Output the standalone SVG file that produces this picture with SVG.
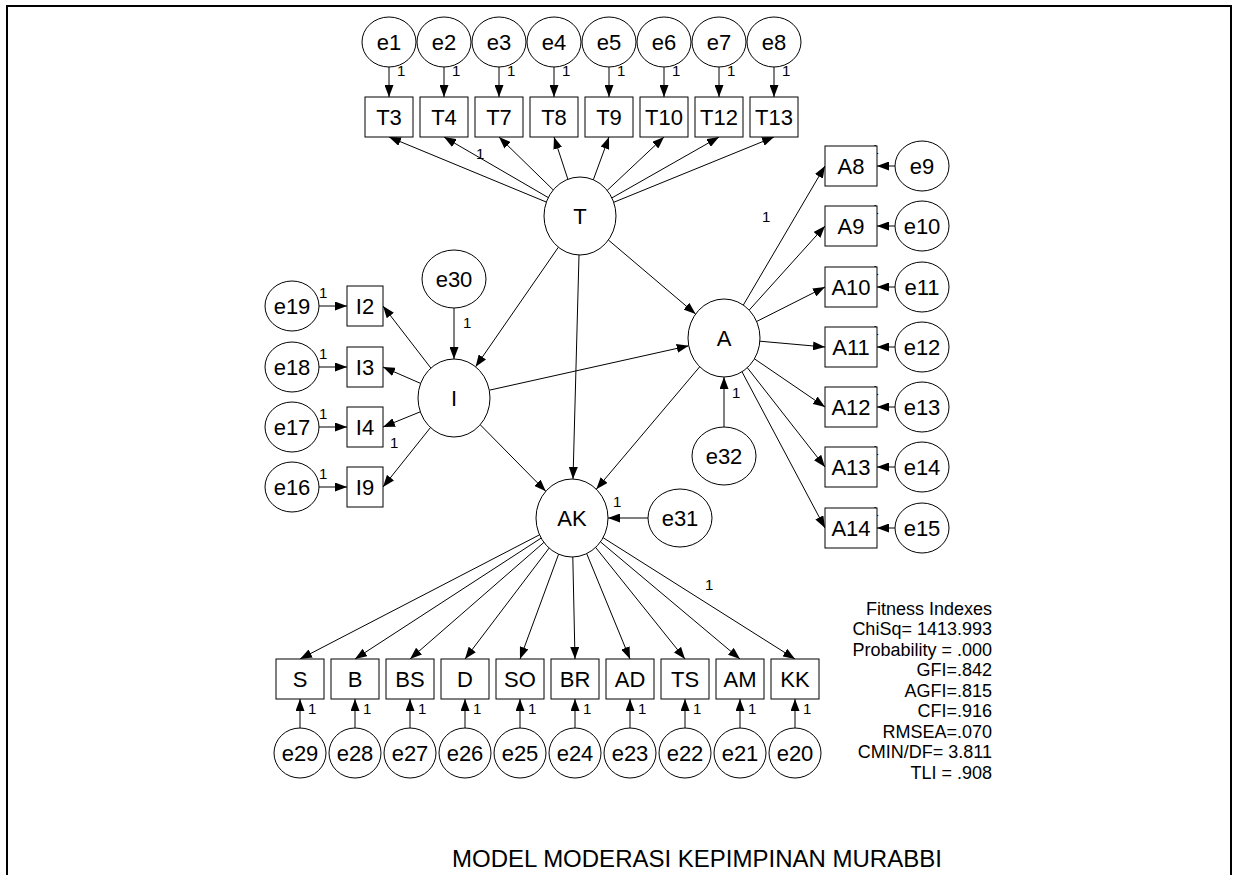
<svg xmlns="http://www.w3.org/2000/svg" width="1237" height="875" viewBox="0 0 1237 875">
<style>
.n{fill:#fff;stroke:#000;stroke-width:1}
.lb{font-family:"Liberation Sans",Arial,sans-serif;font-size:22px;text-anchor:middle;dominant-baseline:central;fill:#000}
.one{font-family:"Liberation Sans",Arial,sans-serif;font-size:15px;fill:#000}
.fit{font-family:"Liberation Sans",Arial,sans-serif;font-size:18px;text-anchor:end;fill:#000}
.c line{stroke:#000;stroke-width:1;marker-end:url(#ah)}
</style>
<defs>
<marker id="ah" viewBox="0 0 12 9" refX="12" refY="4.5" markerWidth="12" markerHeight="9" markerUnits="userSpaceOnUse" orient="auto"><path d="M0,0 L12,4.5 L0,9 Z" fill="#000"/></marker>
</defs>
<rect width="1237" height="875" fill="#fff"/>
<path d="M7,875 V6 H1231 V875" fill="none" stroke="#000" stroke-width="2"/>

<g class="c" id="connectors">
<line x1="389" y1="67" x2="389" y2="97"/><line x1="444" y1="67" x2="444" y2="97"/><line x1="499" y1="67" x2="499" y2="97"/><line x1="554" y1="67" x2="554" y2="97"/><line x1="609" y1="67" x2="609" y2="97"/><line x1="664" y1="67" x2="664" y2="97"/><line x1="719" y1="67" x2="719" y2="97"/><line x1="774" y1="67" x2="774" y2="97"/>
<line x1="546.4" y1="202.1" x2="389" y2="137"/><line x1="548.3" y1="197.6" x2="444" y2="137"/><line x1="553.2" y1="189.9" x2="499" y2="137"/><line x1="567.9" y1="179.3" x2="554" y2="137"/><line x1="593.3" y1="179.8" x2="609" y2="137"/><line x1="607.2" y1="190.4" x2="664" y2="137"/><line x1="611.9" y1="197.9" x2="719" y2="137"/><line x1="613.7" y1="202.3" x2="774" y2="137"/>
<line x1="558.4" y1="247.2" x2="475.6" y2="366.8"/>
<line x1="579" y1="255" x2="573" y2="479"/>
<line x1="608.4" y1="240" x2="695.6" y2="314"/>
<line x1="489.3" y1="390.2" x2="688.7" y2="345.8"/>
<line x1="480.2" y1="424.7" x2="545.8" y2="491.3"/>
<line x1="699.7" y1="366.8" x2="596.3" y2="489.2"/>
<line x1="454" y1="308" x2="454" y2="359"/>
<line x1="724" y1="427" x2="724" y2="377"/>
<line x1="648" y1="518" x2="608" y2="518"/>
<line x1="430.9" y1="368.1" x2="383" y2="306"/><line x1="420.6" y1="383.4" x2="383" y2="367"/><line x1="420.3" y1="411.8" x2="383" y2="427"/><line x1="430.5" y1="427.5" x2="383" y2="487"/>
<line x1="319" y1="306" x2="347" y2="306"/><line x1="319" y1="367" x2="347" y2="367"/><line x1="319" y1="427" x2="347" y2="427"/><line x1="319" y1="487" x2="347" y2="487"/>
<line x1="743.3" y1="305.1" x2="825" y2="166"/><line x1="749.2" y1="310.1" x2="825" y2="226"/><line x1="756.6" y1="321.5" x2="825" y2="287"/><line x1="759.9" y1="341.2" x2="825" y2="347"/><line x1="754.4" y1="358.8" x2="825" y2="407"/><line x1="747.3" y1="367.7" x2="825" y2="467"/><line x1="742" y1="371.8" x2="825" y2="528"/>
<line x1="895" y1="166" x2="877" y2="166"/><line x1="895" y1="226" x2="877" y2="226"/><line x1="895" y1="287" x2="877" y2="287"/><line x1="895" y1="347" x2="877" y2="347"/><line x1="895" y1="407" x2="877" y2="407"/><line x1="895" y1="467" x2="877" y2="467"/><line x1="895" y1="528" x2="877" y2="528"/>
<line x1="539.5" y1="534.8" x2="300" y2="659"/><line x1="541.1" y1="538.1" x2="355" y2="659"/><line x1="543.9" y1="542.4" x2="410" y2="659"/><line x1="549.1" y1="548.1" x2="465" y2="659"/><line x1="558.6" y1="554.2" x2="520" y2="659"/><line x1="572.8" y1="557" x2="575" y2="659"/><line x1="586.7" y1="553.6" x2="630" y2="659"/><line x1="595.6" y1="547.4" x2="685" y2="659"/><line x1="600.5" y1="541.9" x2="740" y2="659"/><line x1="603.1" y1="537.7" x2="795" y2="659"/>
<line x1="300" y1="728" x2="300" y2="699"/><line x1="355" y1="728" x2="355" y2="699"/><line x1="410" y1="728" x2="410" y2="699"/><line x1="465" y1="728" x2="465" y2="699"/><line x1="520" y1="728" x2="520" y2="699"/><line x1="575" y1="728" x2="575" y2="699"/><line x1="630" y1="728" x2="630" y2="699"/><line x1="685" y1="728" x2="685" y2="699"/><line x1="740" y1="728" x2="740" y2="699"/><line x1="795" y1="728" x2="795" y2="699"/>
</g>

<g id="weights" class="one">
<text x="397" y="76">1</text><text x="452" y="76">1</text><text x="507" y="76">1</text><text x="562" y="76">1</text><text x="617" y="76">1</text><text x="672" y="76">1</text><text x="727" y="76">1</text><text x="782" y="76">1</text>
<text x="476" y="159">1</text>
<text x="762" y="222">1</text>
<text x="463" y="328">1</text>
<text x="319" y="298">1</text><text x="319" y="359">1</text><text x="319" y="419">1</text><text x="319" y="479">1</text>
<text x="390" y="448">1</text>
<text x="732" y="398">1</text>
<text x="613" y="507">1</text>
<text x="705" y="590">1</text>
<text x="308" y="714">1</text><text x="363" y="714">1</text><text x="418" y="714">1</text><text x="473" y="714">1</text><text x="528" y="714">1</text><text x="583" y="714">1</text><text x="638" y="714">1</text><text x="693" y="714">1</text><text x="748" y="714">1</text><text x="803" y="714">1</text>
<text x="872" y="154" font-size="12">1</text><text x="872" y="214" font-size="12">1</text><text x="872" y="275" font-size="12">1</text><text x="872" y="335" font-size="12">1</text><text x="872" y="395" font-size="12">1</text><text x="872" y="455" font-size="12">1</text><text x="872" y="516" font-size="12">1</text>
</g>

<g id="e1"><ellipse class="n" cx="389" cy="42" rx="27" ry="25"/><text class="lb" x="389" y="42">e1</text></g>
<g id="e2"><ellipse class="n" cx="444" cy="42" rx="27" ry="25"/><text class="lb" x="444" y="42">e2</text></g>
<g id="e3"><ellipse class="n" cx="499" cy="42" rx="27" ry="25"/><text class="lb" x="499" y="42">e3</text></g>
<g id="e4"><ellipse class="n" cx="554" cy="42" rx="27" ry="25"/><text class="lb" x="554" y="42">e4</text></g>
<g id="e5"><ellipse class="n" cx="609" cy="42" rx="27" ry="25"/><text class="lb" x="609" y="42">e5</text></g>
<g id="e6"><ellipse class="n" cx="664" cy="42" rx="27" ry="25"/><text class="lb" x="664" y="42">e6</text></g>
<g id="e7"><ellipse class="n" cx="719" cy="42" rx="27" ry="25"/><text class="lb" x="719" y="42">e7</text></g>
<g id="e8"><ellipse class="n" cx="774" cy="42" rx="27" ry="25"/><text class="lb" x="774" y="42">e8</text></g>

<g id="T3"><rect class="n" x="365" y="97" width="48" height="40"/><text class="lb" x="389" y="117">T3</text></g>
<g id="T4"><rect class="n" x="420" y="97" width="48" height="40"/><text class="lb" x="444" y="117">T4</text></g>
<g id="T7"><rect class="n" x="475" y="97" width="48" height="40"/><text class="lb" x="499" y="117">T7</text></g>
<g id="T8"><rect class="n" x="530" y="97" width="48" height="40"/><text class="lb" x="554" y="117">T8</text></g>
<g id="T9"><rect class="n" x="585" y="97" width="48" height="40"/><text class="lb" x="609" y="117">T9</text></g>
<g id="T10"><rect class="n" x="640" y="97" width="48" height="40"/><text class="lb" x="664" y="117">T10</text></g>
<g id="T12"><rect class="n" x="695" y="97" width="48" height="40"/><text class="lb" x="719" y="117">T12</text></g>
<g id="T13"><rect class="n" x="750" y="97" width="48" height="40"/><text class="lb" x="774" y="117">T13</text></g>

<g id="T"><ellipse class="n" cx="580" cy="216" rx="36" ry="39"/><text class="lb" x="580" y="216">T</text></g>
<g id="I"><ellipse class="n" cx="454" cy="398" rx="36" ry="39"/><text class="lb" x="454" y="398">I</text></g>
<g id="A"><ellipse class="n" cx="724" cy="338" rx="36" ry="39"/><text class="lb" x="724" y="338">A</text></g>
<g id="AK"><ellipse class="n" cx="572" cy="518" rx="36" ry="39"/><text class="lb" x="572" y="518">AK</text></g>

<g id="e30"><ellipse class="n" cx="454" cy="279" rx="32" ry="29"/><text class="lb" x="454" y="279">e30</text></g>
<g id="e31"><ellipse class="n" cx="680" cy="518" rx="32" ry="29"/><text class="lb" x="680" y="518">e31</text></g>
<g id="e32"><ellipse class="n" cx="724" cy="456" rx="32" ry="29"/><text class="lb" x="724" y="456">e32</text></g>

<g id="I2"><rect class="n" x="347" y="286" width="36" height="40"/><text class="lb" x="365" y="306">I2</text></g>
<g id="I3"><rect class="n" x="347" y="347" width="36" height="40"/><text class="lb" x="365" y="367">I3</text></g>
<g id="I4"><rect class="n" x="347" y="407" width="36" height="40"/><text class="lb" x="365" y="427">I4</text></g>
<g id="I9"><rect class="n" x="347" y="467" width="36" height="40"/><text class="lb" x="365" y="487">I9</text></g>
<g id="e19"><ellipse class="n" cx="292" cy="306" rx="27" ry="25"/><text class="lb" x="292" y="306">e19</text></g>
<g id="e18"><ellipse class="n" cx="292" cy="367" rx="27" ry="25"/><text class="lb" x="292" y="367">e18</text></g>
<g id="e17"><ellipse class="n" cx="292" cy="427" rx="27" ry="25"/><text class="lb" x="292" y="427">e17</text></g>
<g id="e16"><ellipse class="n" cx="292" cy="487" rx="27" ry="25"/><text class="lb" x="292" y="487">e16</text></g>

<g id="A8"><rect class="n" x="825" y="146" width="52" height="40"/><text class="lb" x="851" y="166">A8</text></g>
<g id="A9"><rect class="n" x="825" y="206" width="52" height="40"/><text class="lb" x="851" y="226">A9</text></g>
<g id="A10"><rect class="n" x="825" y="267" width="52" height="40"/><text class="lb" x="851" y="287">A10</text></g>
<g id="A11"><rect class="n" x="825" y="327" width="52" height="40"/><text class="lb" x="851" y="347">A11</text></g>
<g id="A12"><rect class="n" x="825" y="387" width="52" height="40"/><text class="lb" x="851" y="407">A12</text></g>
<g id="A13"><rect class="n" x="825" y="447" width="52" height="40"/><text class="lb" x="851" y="467">A13</text></g>
<g id="A14"><rect class="n" x="825" y="508" width="52" height="40"/><text class="lb" x="851" y="528">A14</text></g>
<g id="e9"><ellipse class="n" cx="922" cy="166" rx="27" ry="25"/><text class="lb" x="922" y="166">e9</text></g>
<g id="e10"><ellipse class="n" cx="922" cy="226" rx="27" ry="25"/><text class="lb" x="922" y="226">e10</text></g>
<g id="e11"><ellipse class="n" cx="922" cy="287" rx="27" ry="25"/><text class="lb" x="922" y="287">e11</text></g>
<g id="e12"><ellipse class="n" cx="922" cy="347" rx="27" ry="25"/><text class="lb" x="922" y="347">e12</text></g>
<g id="e13"><ellipse class="n" cx="922" cy="407" rx="27" ry="25"/><text class="lb" x="922" y="407">e13</text></g>
<g id="e14"><ellipse class="n" cx="922" cy="467" rx="27" ry="25"/><text class="lb" x="922" y="467">e14</text></g>
<g id="e15"><ellipse class="n" cx="922" cy="528" rx="27" ry="25"/><text class="lb" x="922" y="528">e15</text></g>

<g id="S"><rect class="n" x="276" y="659" width="48" height="40"/><text class="lb" x="300" y="679">S</text></g>
<g id="B"><rect class="n" x="331" y="659" width="48" height="40"/><text class="lb" x="355" y="679">B</text></g>
<g id="BS"><rect class="n" x="386" y="659" width="48" height="40"/><text class="lb" x="410" y="679">BS</text></g>
<g id="D"><rect class="n" x="441" y="659" width="48" height="40"/><text class="lb" x="465" y="679">D</text></g>
<g id="SO"><rect class="n" x="496" y="659" width="48" height="40"/><text class="lb" x="520" y="679">SO</text></g>
<g id="BR"><rect class="n" x="551" y="659" width="48" height="40"/><text class="lb" x="575" y="679">BR</text></g>
<g id="AD"><rect class="n" x="606" y="659" width="48" height="40"/><text class="lb" x="630" y="679">AD</text></g>
<g id="TS"><rect class="n" x="661" y="659" width="48" height="40"/><text class="lb" x="685" y="679">TS</text></g>
<g id="AM"><rect class="n" x="716" y="659" width="48" height="40"/><text class="lb" x="740" y="679">AM</text></g>
<g id="KK"><rect class="n" x="771" y="659" width="48" height="40"/><text class="lb" x="795" y="679">KK</text></g>

<g id="e29"><ellipse class="n" cx="300" cy="753" rx="26" ry="25"/><text class="lb" x="300" y="753">e29</text></g>
<g id="e28"><ellipse class="n" cx="355" cy="753" rx="26" ry="25"/><text class="lb" x="355" y="753">e28</text></g>
<g id="e27"><ellipse class="n" cx="410" cy="753" rx="26" ry="25"/><text class="lb" x="410" y="753">e27</text></g>
<g id="e26"><ellipse class="n" cx="465" cy="753" rx="26" ry="25"/><text class="lb" x="465" y="753">e26</text></g>
<g id="e25"><ellipse class="n" cx="520" cy="753" rx="26" ry="25"/><text class="lb" x="520" y="753">e25</text></g>
<g id="e24"><ellipse class="n" cx="575" cy="753" rx="26" ry="25"/><text class="lb" x="575" y="753">e24</text></g>
<g id="e23"><ellipse class="n" cx="630" cy="753" rx="26" ry="25"/><text class="lb" x="630" y="753">e23</text></g>
<g id="e22"><ellipse class="n" cx="685" cy="753" rx="26" ry="25"/><text class="lb" x="685" y="753">e22</text></g>
<g id="e21"><ellipse class="n" cx="740" cy="753" rx="26" ry="25"/><text class="lb" x="740" y="753">e21</text></g>
<g id="e20"><ellipse class="n" cx="795" cy="753" rx="26" ry="25"/><text class="lb" x="795" y="753">e20</text></g>

<g id="fitness" class="fit">
<text x="992" y="615">Fitness Indexes</text>
<text x="992" y="635">ChiSq= 1413.993</text>
<text x="992" y="656">Probability = .000</text>
<text x="992" y="676">GFI=.842</text>
<text x="992" y="697">AGFI=.815</text>
<text x="992" y="717">CFI=.916</text>
<text x="992" y="738">RMSEA=.070</text>
<text x="992" y="758">CMIN/DF= 3.811</text>
<text x="992" y="779">TLI = .908</text>
</g>
<text id="title" x="452" y="867" font-family="'Liberation Sans',Arial,sans-serif" font-size="24">MODEL MODERASI KEPIMPINAN MURABBI</text>
</svg>
